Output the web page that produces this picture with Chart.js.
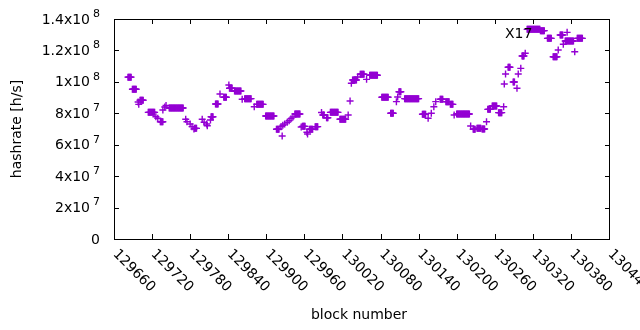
<!DOCTYPE html>
<html>
  <head>
    <meta charset="UTF-8">
    <title>hashrate</title>
    <script src="https://cdn.jsdelivr.net/npm/chart.js"></script>
    <style>
      body { margin: 0; background: #fff; }
    </style>
  </head>
  <body>
    <canvas id="myChart" width="640" height="330"></canvas>

    <script>
      // runs of blocks: first block, last block, hashrate [h/s]
      const blockFrom = [
        129682, 129689, 129698, 129699, 129701, 129714, 129726, 129729, 129733, 129737,
        129740, 129742, 129747, 129773, 129775, 129780, 129783, 129786, 129787, 129799,
        129802, 129806, 129807, 129812, 129813, 129820, 129827, 129833, 129841, 129842,
        129850, 129862, 129866, 129881, 129885, 129899, 129916, 129925, 129923, 129926,
        129929, 129933, 129936, 129939, 129942, 129945, 129955, 129957, 129964, 129965,
        129968, 129977, 129987, 129989, 129995, 130001, 130016, 130029, 130032, 130034,
        130036, 130044, 130048, 130058, 130063, 130082, 130096, 130105, 130107, 130109,
        130118, 130146, 130155, 130160, 130164, 130167, 130174, 130183, 130190, 130196,
        130200, 130222, 130226, 130232, 130240, 130247, 130249, 130256, 130266, 130274,
        130275, 130277, 130281, 130289, 130295, 130297, 130301, 130303, 130308, 130311,
        130332, 130343, 130352, 130360, 130363, 130368, 130374, 130371, 130386, 130390
      ];
      const blockTo = [
        129687, 129695, 129698, 129699, 129706, 129724, 129726, 129729, 129737, 129737,
        129740, 129742, 129769, 129773, 129775, 129780, 129783, 129786, 129790, 129799,
        129802, 129806, 129807, 129812, 129816, 129824, 129827, 129837, 129841, 129846,
        129860, 129862, 129876, 129881, 129895, 129912, 129920, 129925, 129923, 129926,
        129929, 129933, 129936, 129939, 129942, 129953, 129955, 129961, 129964, 129965,
        129973, 129981, 129987, 129991, 129997, 130013, 130025, 130029, 130032, 130034,
        130042, 130044, 130054, 130058, 130075, 130092, 130100, 130105, 130107, 130112,
        130140, 130151, 130155, 130160, 130164, 130167, 130178, 130188, 130194, 130196,
        130220, 130222, 130229, 130238, 130244, 130247, 130253, 130263, 130271, 130274,
        130275, 130277, 130284, 130291, 130295, 130297, 130301, 130306, 130308, 130331,
        130338, 130349, 130358, 130360, 130367, 130368, 130374, 130384, 130386, 130398
      ];
      const hashrate = [
        103e6, 95.3e6, 87.2e6, 85.7e6, 88.3e6, 80.6e6, 77.8e6, 76.8e6, 74.6e6, 82.1e6,
        84.0e6, 85.0e6, 83.4e6, 76.2e6, 74.6e6, 73.2e6, 71.5e6, 70.0e6, 70.4e6, 76.2e6,
        74.3e6, 73.2e6, 72.1e6, 75.7e6, 77.8e6, 85.9e6, 92.3e6, 90.2e6, 98.0e6, 95.9e6,
        94.2e6, 88.9e6, 89.3e6, 84.2e6, 85.7e6, 78.3e6, 69.8e6, 65.5e6, 71.5e6, 72.4e6,
        73.2e6, 74.3e6, 75.3e6, 76.6e6, 77.6e6, 79.5e6, 71.3e6, 71.7e6, 67.9e6, 66.8e6,
        69.8e6, 71.5e6, 80.5e6, 78.9e6, 77.2e6, 80.6e6, 76.2e6, 78.9e6, 87.8e6, 99.1e6,
        101.2e6, 103.1e6, 104.8e6, 101.6e6, 104.2e6, 90.2e6, 80.0e6, 87.4e6, 90.4e6, 93.7e6,
        89.3e6, 79.4e6, 76.8e6, 80.0e6, 84.2e6, 87.4e6, 88.9e6, 87.4e6, 85.7e6, 78.9e6,
        79.5e6, 71.9e6, 69.8e6, 70.4e6, 70.0e6, 74.6e6, 82.5e6, 84.6e6, 80.4e6, 84.2e6,
        98.6e6, 105.0e6, 109.3e6, 99.9e6, 95.9e6, 105.0e6, 108.6e6, 116.5e6, 118.2e6, 133.4e6,
        132.6e6, 127.7e6, 116.0e6, 120.3e6, 129.8e6, 123.9e6, 131.5e6, 126.0e6, 119.2e6, 127.7e6
      ];

      const xTicks = [129660, 129720, 129780, 129840, 129900, 129960, 130020, 130080,
                      130140, 130200, 130260, 130320, 130380, 130440];
      const yTicks = [0, 2e7, 4e7, 6e7, 8e7, 1e8, 1.2e8, 1.4e8];
      const yTickBase = ['0', '2x10', '4x10', '6x10', '8x10', '1x10', '1.2x10', '1.4x10'];
      const yTickExp = ['', '7', '7', '7', '7', '8', '8', '8'];

      const pointLabel = { text: 'X17', block: 130276, value: 1.31e8 };

      const points = [];
      for (let i = 0; i < blockFrom.length; i++) {
        for (let b = blockFrom[i]; b <= blockTo[i]; b++) {
          points.push({ x: b, y: hashrate[i] });
        }
      }

      const FONT = '"DejaVu Sans", sans-serif';

      // gnuplot style frame, inward ticks and labels
      const frame = {
        id: 'frame',
        afterDraw(chart) {
          const ctx = chart.ctx;
          const a = chart.chartArea;
          const sx = chart.scales.x, sy = chart.scales.y;
          ctx.save();
          ctx.strokeStyle = '#000';
          ctx.lineWidth = 1;
          ctx.strokeRect(a.left + 0.5, a.top + 0.5, a.right - a.left, a.bottom - a.top);

          ctx.beginPath();
          yTicks.forEach(v => {
            const py = Math.round(sy.getPixelForValue(v)) + 0.5;
            ctx.moveTo(a.left, py); ctx.lineTo(a.left + 5, py);
            ctx.moveTo(a.right + 1, py); ctx.lineTo(a.right - 4, py);
          });
          xTicks.forEach(v => {
            const px = Math.round(sx.getPixelForValue(v)) + 0.5;
            ctx.moveTo(px, a.bottom); ctx.lineTo(px, a.bottom - 5);
            ctx.moveTo(px, a.top); ctx.lineTo(px, a.top + 5);
          });
          ctx.stroke();

          ctx.fillStyle = '#000';
          ctx.textBaseline = 'middle';
          yTicks.forEach((v, i) => {
            const py = sy.getPixelForValue(v);
            let right = 100;
            if (yTickExp[i]) {
              ctx.font = '11px ' + FONT;
              ctx.textAlign = 'right';
              ctx.fillText(yTickExp[i], right, py - 5);
              right -= ctx.measureText(yTickExp[i]).width + 3;
            }
            ctx.font = '14px ' + FONT;
            ctx.textAlign = 'right';
            ctx.fillText(yTickBase[i], right, py + 1);
          });

          ctx.font = '14px ' + FONT;
          ctx.textAlign = 'left';
          xTicks.forEach(v => {
            const px = sx.getPixelForValue(v);
            ctx.save();
            ctx.translate(px + 1, 252);
            ctx.rotate(Math.PI / 4);
            ctx.fillText(String(v), 0, 0);
            ctx.restore();
          });

          ctx.textAlign = 'center';
          ctx.fillText('block number', 359, 315);
          ctx.save();
          ctx.translate(17, (a.top + a.bottom) / 2);
          ctx.rotate(-Math.PI / 2);
          ctx.fillText('hashrate [h/s]', 0, 0);
          ctx.restore();

          ctx.textAlign = 'left';
          ctx.textBaseline = 'alphabetic';
          ctx.fillText(pointLabel.text, sx.getPixelForValue(pointLabel.block), sy.getPixelForValue(pointLabel.value) + 5);
          ctx.restore();
        }
      };

      const ctx = document.getElementById('myChart').getContext('2d');
      new Chart(ctx, {
        type: 'scatter',
        data: {
          datasets: [{
            label: 'hashrate',
            data: points,
            pointStyle: 'cross',
            pointRadius: 3.5,
            pointHoverRadius: 3.5,
            borderWidth: 1.4,
            borderColor: '#9400d3',
            backgroundColor: '#9400d3'
          }]
        },
        options: {
          responsive: false,
          animation: false,
          devicePixelRatio: 1,
          layout: { padding: { left: 114, right: 31, top: 19, bottom: 91 } },
          plugins: { legend: { display: false }, tooltip: { enabled: false } },
          scales: {
            x: { type: 'linear', min: 129660, max: 130440, display: false },
            y: { type: 'linear', min: 0, max: 1.4e8, display: false }
          }
        },
        plugins: [frame]
      });
    </script>
  </body>
</html>
